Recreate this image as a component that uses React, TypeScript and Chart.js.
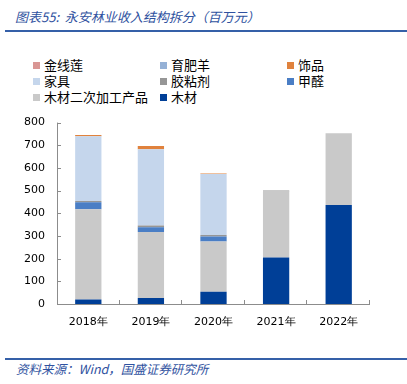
import React, { useEffect, useRef } from "react";
import { Chart, registerables } from "chart.js";
Chart.register(...registerables);

const categories = ["2018年", "2019年", "2020年", "2021年", "2022年"];
const yTicks = [0, 100, 200, 300, 400, 500, 600, 700, 800];
// bottom to top
const wood = [20, 27, 54, 205, 437];
const woodProducts = [398, 290, 222, 291, 316];
const formaldehyde = [31, 22, 22, 0, 0];
const adhesive = [5, 7, 6, 5, 0];
const furniture = [286, 337, 269, 0, 0];
const ornaments = [5, 14, 3, 0, 0];
const sheep = [0, 0, 0, 0, 0];
const anoectochilus = [0, 0, 0, 0, 0];

const seriesNames = ["木材", "木材二次加工产品", "甲醛", "胶粘剂", "家具", "饰品", "育肥羊", "金线莲"];
const seriesData = [wood, woodProducts, formaldehyde, adhesive, furniture, ornaments, sheep, anoectochilus];
const seriesColors = ["#003F97", "#C9C9C9", "#4A7EC5", "#969696", "#C5D6EC", "#E0823D", "#95B1D6", "#D99694"];
// legend order (3 columns)
const legendOrder = ["金线莲", "育肥羊", "饰品", "家具", "胶粘剂", "甲醛", "木材二次加工产品", "木材"];

const axisColor = "#8C8C8C";

const tickPlugin = {
  id: "insideTicks",
  afterDraw(chart: any) {
    const ctx = chart.ctx;
    const x = chart.scales.x;
    const y = chart.scales.y;
    const area = chart.chartArea;
    ctx.save();
    ctx.strokeStyle = axisColor;
    ctx.lineWidth = 1;
    ctx.beginPath();
    ctx.moveTo(area.left + 0.5, y.getPixelForValue(800));
    ctx.lineTo(area.left + 0.5, area.bottom + 0.5);
    ctx.lineTo(area.right, area.bottom + 0.5);
    yTicks.forEach((v) => {
      const py = Math.round(y.getPixelForValue(v)) + 0.5;
      ctx.moveTo(area.left, py);
      ctx.lineTo(area.left + 4, py);
    });
    const n = categories.length;
    for (let i = 1; i <= n; i++) {
      const px = i < n
        ? (x.getPixelForValue(i - 1) + x.getPixelForValue(i)) / 2
        : area.right;
      const rx = Math.round(px) - 0.5;
      ctx.moveTo(rx, area.bottom);
      ctx.lineTo(rx, area.bottom - 4);
    }
    ctx.stroke();
    ctx.restore();
  },
};

function ChartView() {
  const ref = useRef<HTMLCanvasElement>(null);
  useEffect(() => {
    if (!ref.current) return;
    const chart = new Chart(ref.current, {
      type: "bar",
      data: {
        labels: categories,
        datasets: seriesNames.map((name, i) => ({
          label: name,
          data: seriesData[i],
          backgroundColor: seriesColors[i],
          borderWidth: 0,
          categoryPercentage: 1,
          barPercentage: 0.42,
        })),
      },
      options: {
        animation: false,
        responsive: false,
        maintainAspectRatio: false,
        layout: { padding: { left: 0, right: 37, top: 1, bottom: 0 } },
        plugins: { legend: { display: false }, tooltip: { enabled: false } },
        scales: {
          x: {
            stacked: true,
            grid: { display: false, drawTicks: false },
            border: { display: false },
            ticks: { color: "#000", font: { family: "DejaVu Sans", size: 11 }, padding: 12 },
            afterFit: (s: any) => { s.height = 36; },
          },
          y: {
            stacked: true,
            min: 0,
            max: 800,
            afterBuildTicks: (s: any) => { s.ticks = yTicks.map((v) => ({ value: v })); },
            grid: { display: false, drawTicks: false },
            border: { display: false },
            ticks: { color: "#000", font: { family: "DejaVu Sans", size: 11 }, padding: 12 },
            afterFit: (s: any) => { s.width = 57; },
          },
        },
      },
      plugins: [tickPlugin],
    });
    return () => chart.destroy();
  }, []);
  return <canvas ref={ref} width={407} height={236} style={{ position: "absolute", left: 0, top: 104, width: 407, height: 236 }} />;
}

export default function App() {
  const legendCols = [33, 160, 287];
  const legendRows = [65, 81, 97];
  return (
    <div style={{ position: "fixed", left: 0, top: 0, width: 407, height: 384, background: "#fff", overflow: "hidden", fontFamily: "'Noto Sans CJK SC', sans-serif" }}>
      <div style={{ position: "absolute", left: 15, top: 7, fontSize: 13, fontStyle: "italic", color: "#2F52A0", whiteSpace: "nowrap", lineHeight: "20px" }}>
        图表55:&nbsp;&nbsp;永安林业收入结构拆分（百万元）
      </div>
      <div style={{ position: "absolute", left: 5, top: 30, width: 402, height: 2, background: "#3560A8" }} />
      {legendOrder.map((name, k) => {
        const idx = seriesNames.indexOf(name);
        const col = k % 3;
        const row = Math.floor(k / 3);
        return (
          <div key={name} style={{ position: "absolute", left: legendCols[col], top: legendRows[row] - 9, height: 18, display: "flex", alignItems: "center", whiteSpace: "nowrap" }}>
            <span style={{ display: "inline-block", width: 7, height: 7, background: seriesColors[idx], marginRight: 4 }} />
            <span style={{ fontSize: 13, color: "#000", lineHeight: "18px" }}>{name}</span>
          </div>
        );
      })}
      <ChartView />
      <div style={{ position: "absolute", left: 5, top: 358, width: 402, height: 1.5, background: "#3560A8" }} />
      <div style={{ position: "absolute", left: 16, top: 360, fontSize: 12.5, fontStyle: "italic", color: "#2F52A0", whiteSpace: "nowrap", lineHeight: "18px" }}>
        资料来源：Wind，国盛证券研究所
      </div>
    </div>
  );
}
